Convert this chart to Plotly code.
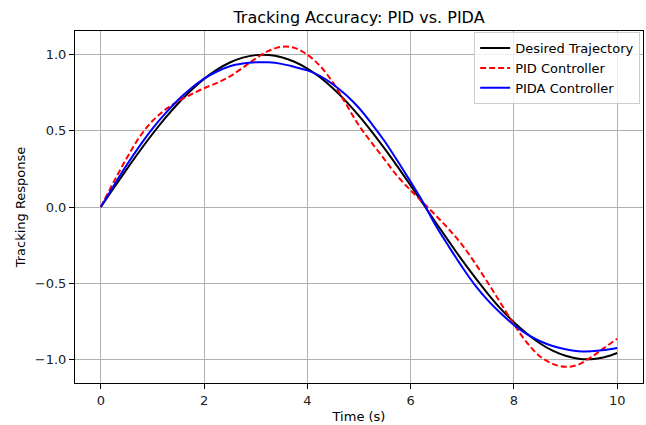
import plotly.graph_objects as go

time_s = [i * 0.25 for i in range(41)]

desired = [0.0, 0.1247, 0.2474, 0.3663, 0.4794, 0.5851, 0.6816, 0.7675, 0.8415,
           0.9023, 0.9490, 0.9809, 0.9975, 0.9985, 0.9840, 0.9541, 0.9093, 0.8505,
           0.7781, 0.6939, 0.5985, 0.4937, 0.3817, 0.2640, 0.1411, 0.0166, -0.1082,
           -0.2306, -0.3508, -0.4646, -0.5716, -0.6706, -0.7568, -0.8314, -0.8950,
           -0.9437, -0.9775, -0.9962, -0.9993, -0.9866, -0.9589]

pid = [0.0, 0.165, 0.32, 0.46, 0.565, 0.64, 0.695, 0.74, 0.78,
       0.815, 0.858, 0.915, 0.975, 1.025, 1.052, 1.045, 1.0, 0.925,
       0.815, 0.675, 0.535, 0.42, 0.31, 0.20, 0.11, 0.025, -0.06,
       -0.15, -0.25, -0.37, -0.50, -0.635, -0.77, -0.89, -0.98,
       -1.03, -1.05, -1.035, -0.985, -0.925, -0.865]

pida = [0.0, 0.14, 0.275, 0.40, 0.515, 0.615, 0.705, 0.78, 0.843,
        0.89, 0.925, 0.942, 0.95, 0.95, 0.94, 0.92, 0.897, 0.86,
        0.805, 0.735, 0.65, 0.545, 0.43, 0.30, 0.165, 0.025, -0.13,
        -0.265, -0.395, -0.515, -0.615, -0.70, -0.775, -0.835, -0.88,
        -0.913, -0.935, -0.947, -0.948, -0.94, -0.926]

x_ticks = [0, 2, 4, 6, 8, 10]
y_ticks = [-1.0, -0.5, 0.0, 0.5, 1.0]
y_tick_labels = ["\u22121.0", "\u22120.5", "0.0", "0.5", "1.0"]

fig = go.Figure()
fig.add_trace(go.Scatter(x=time_s, y=desired, mode="lines", name="Desired Trajectory",
                         line=dict(color="black", width=2, shape="spline")))
fig.add_trace(go.Scatter(x=time_s, y=pid, mode="lines", name="PID Controller",
                         line=dict(color="red", width=2, dash="6px,3px", shape="spline")))
fig.add_trace(go.Scatter(x=time_s, y=pida, mode="lines", name="PIDA Controller",
                         line=dict(color="blue", width=2, shape="spline")))

axis_common = dict(showline=True, linecolor="black", linewidth=1, mirror=True,
                   ticks="outside", ticklen=5, tickcolor="black", tickwidth=1,
                   showgrid=True, gridcolor="#b0b0b0", gridwidth=1, zeroline=False,
                   tickfont=dict(family="DejaVu Sans", size=13, color="#222222"))

fig.update_layout(
    width=646, height=425,
    margin=dict(l=75, r=3, t=31, b=42),
    paper_bgcolor="white", plot_bgcolor="white",
    font=dict(family="DejaVu Sans", size=13, color="black"),
    title=dict(text="Tracking Accuracy: PID vs. PIDA", x=(75 + 643) / 2 / 646, xanchor="center",
               y=1 - 17 / 425, yanchor="middle", font=dict(size=16, family="DejaVu Sans")),
    xaxis=dict(range=[-0.5, 10.5], tickvals=x_ticks,
               title=dict(text="Time (s)", standoff=5, font=dict(size=13)), **axis_common),
    yaxis=dict(range=[-1.156, 1.156], tickvals=y_ticks, ticktext=y_tick_labels,
               title=dict(text="Tracking Response", standoff=6, font=dict(size=13)), **axis_common),
    legend=dict(x=0.995, y=0.997, xanchor="right", yanchor="top",
                bgcolor="rgba(255,255,255,0.8)", bordercolor="#cccccc", borderwidth=1,
                font=dict(size=13, family="DejaVu Sans"), tracegroupgap=0),
    showlegend=True,
)

fig.write_html("out.html")
